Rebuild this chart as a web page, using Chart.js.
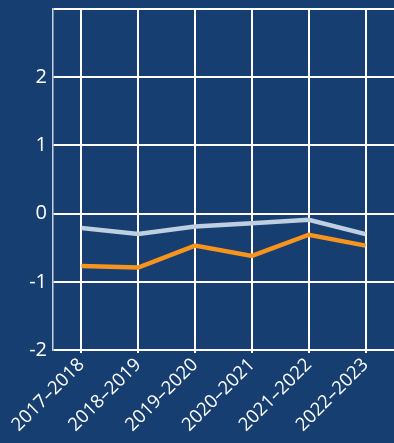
<!DOCTYPE html>
<html>
<head>
<meta charset="utf-8">
<script src="https://cdn.jsdelivr.net/npm/chart.js@4"></script>
<style>
  html, body { margin: 0; padding: 0; background: #173e70; }
  #wrap { width: 394px; height: 443px; }
</style>
</head>
<body>
<div id="wrap"><canvas id="c"></canvas></div>
<script>
const categories = ['2017–2018', '2018–2019', '2019–2020', '2020–2021', '2021–2022', '2022–2023'];
const seriesLight = [-0.21, -0.30, -0.19, -0.14, -0.09, -0.30];
const seriesOrange = [-0.77, -0.79, -0.47, -0.62, -0.31, -0.47];
const yTicks = [-2, -1, 0, 1, 2];

new Chart(document.getElementById('c'), {
  type: 'line',
  data: {
    labels: categories,
    datasets: [
      { data: seriesLight, borderColor: '#bfcfe2', borderWidth: 4.5, pointRadius: 0, tension: 0 },
      { data: seriesOrange, borderColor: '#f7941d', borderWidth: 4.5, pointRadius: 0, tension: 0 }
    ]
  },
  options: {
    responsive: true,
    maintainAspectRatio: false,
    animation: false,
    layout: { padding: { top: 9, right: 0, bottom: 0, left: 0 } },
    plugins: { legend: { display: false }, tooltip: { enabled: false } },
    scales: {
      x: {
        offset: true,
        afterFit: (axis) => {
          axis.height = 93;
          axis.paddingLeft = 0;
          axis.paddingRight = 0;
        },
        grid: { offset: false, color: '#ffffff', lineWidth: 2, tickLength: 3 },
        border: { display: false },
        ticks: {
          color: '#ffffff',
          font: { family: 'Open Sans', size: 18.5 },
          autoSkip: false,
          maxRotation: 45,
          minRotation: 45,
          padding: 1
        }
      },
      y: {
        min: -2,
        max: 3,
        afterFit: (axis) => {
          axis.width = 53;
          axis.paddingTop = 0;
          axis.paddingBottom = 0;
        },
        grid: { color: '#ffffff', lineWidth: 2, drawTicks: false },
        border: { display: true, color: '#c9d3df', width: 1.5 },
        afterBuildTicks: (axis) => {
          axis.ticks = [...yTicks, 3].map(v => ({ value: v }));
        },
        ticks: {
          color: '#ffffff',
          font: { family: 'Open Sans', size: 20 },
          padding: 6,
          callback: (v) => (yTicks.includes(v) ? String(v) : '')
        }
      }
    }
  }
});
</script>
</body>
</html>
